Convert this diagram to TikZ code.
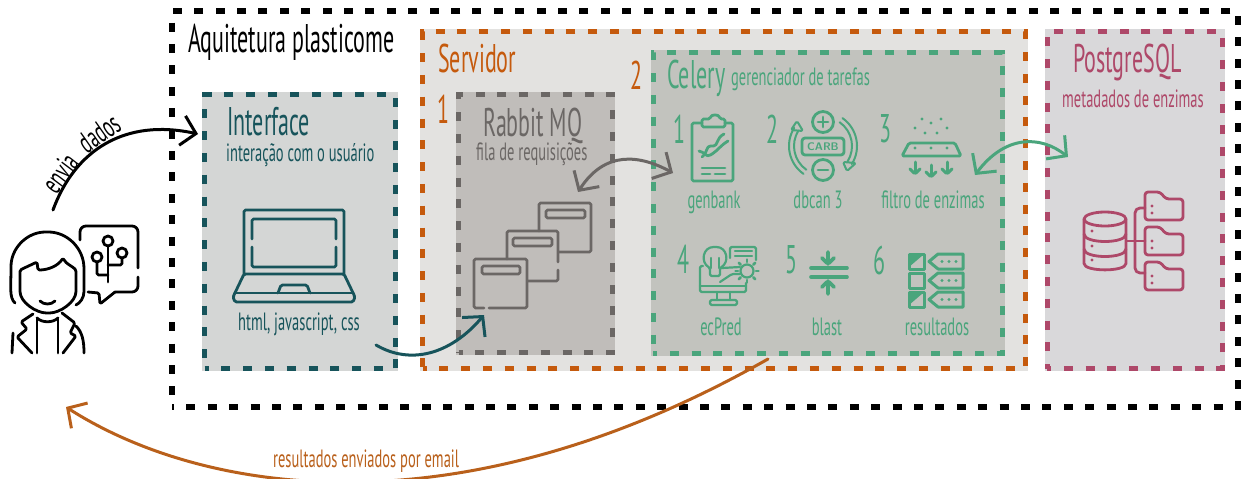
\documentclass[tikz,border=0pt]{standalone}
\usepackage{fontspec}
\usetikzlibrary{arrows.meta}
\newfontfamily\mao[FakeStretch=0.55]{PT Sans}
\newfontfamily\maosub[FakeStretch=0.58]{PT Sans}
\definecolor{corInterface}{HTML}{17545B}
\definecolor{corServidor}{HTML}{C55A0D}
\definecolor{corRabbit}{HTML}{6B6765}
\definecolor{corCelery}{HTML}{4AA57C}
\definecolor{corPostgres}{HTML}{AE4869}
\definecolor{corEmail}{HTML}{B9601B}
\definecolor{fundoInterface}{HTML}{D4D6D5}
\definecolor{fundoServidor}{HTML}{E3E2E0}
\definecolor{fundoRabbit}{HTML}{C0BDBA}
\definecolor{fundoCelery}{HTML}{C2C3BE}
\definecolor{fundoPostgres}{HTML}{D9D8DA}
\tikzset{
	caixa/.style n args={2}{draw=#1, fill=#2, preaction={draw=#2, solid}, line width=5pt, line cap=butt, dash pattern=on 9pt off 12.8pt, dash phase=5pt, anchor=north west, inner sep=0pt, outer sep=0pt},
	titulo/.style={font=\mao\fontsize{40}{40}\selectfont, inner sep=0pt},
	subtitulo/.style={font=\maosub\fontsize{25}{25}\selectfont, inner sep=0pt},
	numero/.style={font=\mao\fontsize{40}{40}\selectfont, inner sep=0pt},
	seta/.style={line width=3pt, line cap=round, line join=round, -{Straight Barb[length=14pt, width=30pt, line width=3pt]}},
	setadupla/.style={line width=3pt, line cap=round, line join=round, {Straight Barb[length=14pt, width=30pt, line width=3pt]}-{Straight Barb[length=14pt, width=30pt, line width=3pt]}},
	icone/.style={line width=2.8pt, line cap=round, line join=round, rounded corners=1.5pt}
}
\begin{document}
\begin{tikzpicture}[x=1pt, y=-1pt]
	\useasboundingbox (0, 0) rectangle (1245, 479);

	%%%%% caixas %%%%%
	\node[draw=black, line width=5.4pt, line cap=butt, dash pattern=on 9pt off 12.4pt, dash phase=7pt, anchor=north west, inner sep=0pt, outer sep=0pt, minimum width=1066pt, minimum height=396pt] (arquitetura) at (172, 11) {};
	\node[caixa={corServidor}{fundoServidor}, minimum width=603pt, minimum height=337pt] (servidor) at (422.5, 31.5) {};
	\node[caixa={corInterface}{fundoInterface}, minimum width=191pt, minimum height=274pt] (interface) at (204.5, 94.5) {};
	\node[caixa={corRabbit}{fundoRabbit}, minimum width=154pt, minimum height=258pt] (rabbit) at (458.5, 94.5) {};
	\node[caixa={corCelery}{fundoCelery}, minimum width=349pt, minimum height=301pt] (celery) at (653, 52.5) {};
	\node[caixa={corPostgres}{fundoPostgres}, minimum width=175pt, minimum height=337pt] (postgres) at (1047, 31.5) {};

	%%%%% textos %%%%%
	\node[titulo, anchor=base west] (tArquitetura) at (188, 52) {Aquitetura plasticome};

	\node[titulo, color=corInterface, anchor=base west] (tInterface) at (227, 135) {Interface};
	\node[subtitulo, color=corInterface, anchor=base west] (tUsuario) at (226, 161) {interação com o usuário};
	\node[subtitulo, color=corInterface, anchor=base west] (tHtml) at (238, 330) {html, javascript, css};

	\node[titulo, color=corServidor, anchor=base west] (tServidor) at (438, 72) {Servidor};
	\node[numero, color=corServidor] (nRabbit) at (443, 109) {1};
	\node[numero, color=corServidor] (nCelery) at (636, 75) {2};

	\node[titulo, color=corRabbit, anchor=base west] (tRabbit) at (483, 136) {Rabbit MQ};
	\node[subtitulo, color=corRabbit, anchor=base west] (tFila) at (476, 160) {fila de requisições};

	\node[titulo, color=corCelery, anchor=base west] (tCelery) at (667, 88) {Celery};
	\node[subtitulo, color=corCelery, anchor=base west] (tTarefas) at (731, 85) {gerenciador de tarefas};

	\node[numero, color=corCelery] (n1) at (679, 129) {1};
	\node[numero, color=corCelery] (n2) at (772, 129) {2};
	\node[numero, color=corCelery] (n3) at (885, 129) {3};
	\node[numero, color=corCelery] (n4) at (683, 259) {4};
	\node[numero, color=corCelery] (n5) at (791, 260) {5};
	\node[numero, color=corCelery] (n6) at (879, 260) {6};

	\node[subtitulo, color=corCelery, anchor=base] (tGenbank) at (714, 208) {genbank};
	\node[subtitulo, color=corCelery, anchor=base] (tDbcan) at (818, 208) {dbcan 3};
	\node[subtitulo, color=corCelery, anchor=base] (tFiltro) at (933, 208) {filtro de enzimas};
	\node[subtitulo, color=corCelery, anchor=base] (tEcpred) at (721, 335) {ecPred};
	\node[subtitulo, color=corCelery, anchor=base] (tBlast) at (827, 335) {blast};
	\node[subtitulo, color=corCelery, anchor=base] (tResultados) at (937, 335) {resultados};

	\node[titulo, color=corPostgres, anchor=base west] (tPostgres) at (1073, 72) {PostgreSQL};
	\node[subtitulo, color=corPostgres, anchor=base west] (tMetadados) at (1062, 107) {metadados de enzimas};

	\node[subtitulo, rotate=53, font=\maosub\fontsize{30}{30}\selectfont] (tEnvia) at (60, 173) {envia};
	\node[subtitulo, rotate=35, font=\maosub\fontsize{30}{30}\selectfont] (tDados) at (99, 133) {dados};
	\node[subtitulo, color=corEmail, anchor=base west] (tEmail) at (273, 467) {resultados enviados por email};

	%%%%% pessoa %%%%%
	\begin{scope}[icone]
		\draw (15, 303) .. controls (9, 298) and (11, 285) .. (11, 268) .. controls (11, 248) and (27, 232) .. (47, 232) .. controls (67, 232) and (84, 248) .. (84, 270) -- (84, 290) .. controls (84, 298) and (80, 303) .. (76, 305);
		\draw (20, 270) -- (37, 262) -- (38, 270) .. controls (48, 270) and (58, 266) .. (63, 258) .. controls (66, 264) and (72, 266) .. (76, 270) -- (76, 290) .. controls (76, 302) and (60, 313) .. (48, 313) .. controls (36, 313) and (20, 302) .. (20, 290) -- cycle;
		\draw (40, 301) .. controls (44, 305) and (51, 305) .. (55, 301);
		\draw (33, 314) -- (21, 322) -- (27, 329) -- (17, 337) -- (32, 353);
		\draw (37, 318) -- (37, 353);
		\draw (58, 318) -- (58, 353);
		\draw (37, 318) .. controls (42, 323) and (53, 323) .. (58, 318);
		\draw (62, 313) -- (75, 323) -- (70, 333) -- (76, 336) -- (63, 353);
		\draw (76, 326) .. controls (82, 332) and (84, 340) .. (84, 353);
		\draw (13, 333) -- (12, 353);
		\draw[rounded corners=6pt] (80, 240) -- (80, 226) -- (138, 226) -- (138, 268);
		\draw[rounded corners=6pt] (138, 277) -- (138, 292) -- (115, 292);
		\draw (115, 292) -- (100, 304) -- (99, 293) -- (88, 292);
		\draw (108, 241) circle (5) (97, 257) circle (5) (122, 253) circle (5);
		\draw (108, 246) -- (108, 282);
		\draw (97, 262) -- (97, 275) -- (108, 275);
		\draw (122, 258) -- (122, 265) -- (108, 265);
	\end{scope}

	%%%%% laptop %%%%%
	\begin{scope}[icone, color=corInterface]
		\draw (244, 274) -- (244, 210) -- (344, 210) -- (344, 274);
		\draw (252, 239) -- (252, 219) -- (336, 219) -- (336, 239);
		\draw (252, 247) -- (252, 267) -- (336, 267) -- (336, 247);
		\draw (244, 274) -- (233, 297) -- (235, 302) -- (353, 302) -- (355, 297) -- (344, 274) -- cycle;
		\draw (235, 293) -- (353, 293);
		\draw (278, 293) -- (281, 285) -- (307, 285) -- (310, 293);
	\end{scope}

	%%%%% fila %%%%%
	\begin{scope}[icone, color=corRabbit]
		\draw (484, 308) -- (474, 308) -- (474, 259) -- (527, 259) -- (527, 308) -- (489, 308);
		\draw (482, 266) rectangle (520, 274);
		\draw (507, 259) -- (507, 231) -- (558, 231) -- (558, 262);
		\draw (558, 270) -- (558, 281) -- (528, 281);
		\draw (513, 238) rectangle (552, 246);
		\draw (539, 231) -- (539, 203) -- (591, 203) -- (591, 252) -- (559, 252);
		\draw (546, 210) rectangle (585, 218);
	\end{scope}

	%%%%% genbank %%%%%
	\begin{scope}[icone, color=corCelery]
		\draw (702, 123) -- (692, 123) -- (692, 181) -- (733, 181) -- (733, 123) -- (725, 123);
		\draw (702, 127) -- (702, 119) -- (710, 119) .. controls (711, 114) and (719, 114) .. (720, 119) -- (725, 119) -- (725, 127) -- cycle;
		\draw (702, 157) .. controls (708, 152) and (706, 146) .. (712, 146) .. controls (718, 146) and (716, 138) .. (724, 134);
		\draw (699, 151) .. controls (705, 152) and (706, 158) .. (712, 154) .. controls (718, 150) and (720, 146) .. (728, 141);
		\draw (702, 168) -- (725, 168);
		\draw (702, 174) -- (710, 174) (715, 174) -- (725, 174);
	\end{scope}

	%%%%% dbcan %%%%%
	\begin{scope}[icone, color=corCelery]
		\draw (823, 122) circle (10.5) (823, 170) circle (10.5);
		\draw (818, 122) -- (828, 122) (823, 117) -- (823, 127);
		\draw (818, 170) -- (828, 170);
		\draw[rounded corners=3pt] (802, 138) rectangle (844, 155);
		\node[font=\sffamily\bfseries\fontsize{11}{11}\selectfont, color=corCelery, inner sep=0pt] (tCarb) at (823, 146.5) {CARB};
		\draw[line width=2pt] (823, 146) ++(125:34) arc (125:212:34);
		\draw[line width=2pt] (823, 146) ++(125:29) arc (125:212:29);
		\draw[line width=2pt] (797, 121) -- (791, 130) -- (803, 131) -- cycle;
		\draw[line width=2pt] (823, 146) ++(-55:34) arc (-55:32:34);
		\draw[line width=2pt] (823, 146) ++(-55:29) arc (-55:32:29);
		\draw[line width=2pt] (847, 171) -- (843, 162) -- (856, 163) -- cycle;
	\end{scope}

	%%%%% filtro %%%%%
	\begin{scope}[icone, color=corCelery]
		\fill (922, 119) circle (1.7) (931, 123) circle (1.7) (941, 119) circle (1.7) (915, 128) circle (1.7) (947, 128) circle (1.7) (925, 133) circle (1.7) (937, 133) circle (1.7);
		\draw (909, 143) -- (955, 143) -- (961, 156) -- (902, 156) -- cycle;
		\fill (915, 148) circle (1.7) (931, 148) circle (1.7) (947, 148) circle (1.7);
		\foreach \xseta/\yseta in {915/162, 931/165, 947/162} {
			\draw[line width=3pt] (\xseta, \yseta) -- (\xseta, \yseta+11);
			\draw[line width=3pt] (\xseta-5, \yseta+7) -- (\xseta, \yseta+12) -- (\xseta+5, \yseta+7);
		}
	\end{scope}

	%%%%% ecpred %%%%%
	\begin{scope}[icone, color=corCelery, line width=2.2pt]
		\draw (730, 258) -- (730, 247) -- (756, 247) -- (756, 260);
		\draw (735, 251) -- (752, 251) (735, 256) -- (752, 256);
		\draw (710, 276) -- (710, 268) .. controls (700, 262) and (703, 247) .. (715, 247) .. controls (727, 247) and (730, 262) .. (720, 268) -- (720, 276) -- cycle;
		\draw (711, 258) -- (711, 268) (719, 258) -- (719, 268);
		\draw (703, 266) -- (700, 266) -- (700, 292) -- (746, 292) -- (746, 283);
		\draw (700, 286) -- (746, 286);
		\draw (722, 268) -- (740, 267) (720, 282) -- (732, 274) -- (740, 274);
		\draw (747, 271) circle (6.5);
		\foreach \ang in {0, 45, ..., 315} {
			\draw[line width=2.6pt] (747, 271) ++(\ang:9) -- ++(\ang:2.5);
		}
		\draw (717, 292) -- (717, 300) (730, 292) -- (730, 300);
		\draw (710, 300) rectangle (737, 305);
	\end{scope}

	%%%%% blast %%%%%
	\begin{scope}[icone, color=corCelery]
		\draw[line width=3.6pt] (811, 268) -- (847, 268) (811, 277) -- (847, 277);
		\draw[line width=3.6pt] (828, 252) -- (828, 264) (822, 258) -- (828, 264) -- (834, 258);
		\draw[line width=3.6pt] (828, 294) -- (828, 281) (822, 287) -- (828, 281) -- (834, 287);
	\end{scope}

	%%%%% resultados %%%%%
	\begin{scope}[icone, color=corCelery]
		\foreach \ylinha in {253, 272, 291} {
			\draw[line width=3pt, rounded corners=0pt] (909, \ylinha+1) rectangle (924, \ylinha+16);
			\draw[line width=3pt, rounded corners=0pt] (963, \ylinha+1) -- (938, \ylinha+1) -- (929, \ylinha+8.5) -- (938, \ylinha+16) -- (963, \ylinha+16) -- cycle;
			\fill (942, \ylinha+8.5) circle (1.7) (949, \ylinha+8.5) circle (1.7) (956, \ylinha+8.5) circle (1.7);
		}
		\fill (909, 267) -- (923, 255) -- (909, 255) -- cycle;
		\fill (909, 305) -- (923, 293) -- (909, 293) -- cycle;
	\end{scope}

	%%%%% banco %%%%%
	\begin{scope}[icone, color=corPostgres]
		\draw (1105, 219) ellipse (21 and 7);
		\draw (1084, 219) -- (1084, 262) .. controls (1084, 272) and (1126, 272) .. (1126, 262) -- (1126, 219);
		\draw (1084, 234) .. controls (1084, 244) and (1126, 244) .. (1126, 234);
		\draw (1084, 249) .. controls (1084, 259) and (1126, 259) .. (1126, 249);
		\fill (1092, 231) circle (1.6) (1092, 246) circle (1.6) (1092, 260) circle (1.6);
		\draw (1127, 241) -- (1145, 241);
		\draw[rounded corners=5pt] (1145, 208) -- (1135, 208) -- (1135, 273) -- (1145, 273);
		\foreach \ypasta in {192, 227, 262} {
			\draw[rounded corners=3pt] (1145, \ypasta) -- (1160, \ypasta) -- (1166, \ypasta+7) -- (1183, \ypasta+7) -- (1183, \ypasta+28) -- (1145, \ypasta+28) -- cycle;
			\fill (1152, \ypasta+14) circle (1.6) (1152, \ypasta+21) circle (1.6);
		}
	\end{scope}

	%%%%% conexoes %%%%%
	\coordinate (saiPessoa) at (53, 210);
	\coordinate (chegaInterface) at (198, 134);
	\coordinate (saiHtml) at (376, 345);
	\coordinate (chegaFila) at (484, 315);
	\coordinate (pontaFila) at (578, 192);
	\coordinate (pontaGenbank) at (673, 173);
	\coordinate (pontaFiltro) at (975, 175);
	\coordinate (pontaPostgres) at (1068, 157);
	\coordinate (saiCelery) at (768, 359);
	\coordinate (chegaPessoa) at (66, 407);

	\draw[seta] (saiPessoa) .. controls (75, 150) and (125, 118) .. (chegaInterface);
	\draw[seta, color=corInterface] (saiHtml) .. controls (410, 365) and (450, 355) .. (chegaFila);
	\draw[setadupla, color=corRabbit] (pontaFila) .. controls (605, 150) and (640, 155) .. (pontaGenbank);
	\draw[setadupla, color=corCelery] (pontaFiltro) .. controls (1005, 135) and (1040, 135) .. (pontaPostgres);
	\draw[seta, color=corEmail] (saiCelery) .. controls (455, 537) and (200, 493) .. (chegaPessoa);
\end{tikzpicture}
\end{document}
